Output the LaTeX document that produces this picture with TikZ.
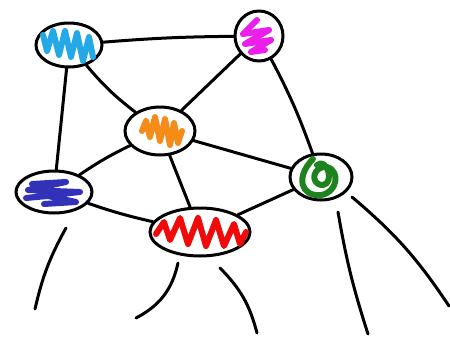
\documentclass[tikz,border=0pt]{standalone}
\usetikzlibrary{shapes.geometric}
\definecolor{pcyan}{RGB}{35,170,230}
\definecolor{pmag}{RGB}{235,30,235}
\definecolor{porange}{RGB}{245,140,25}
\definecolor{pblue}{RGB}{50,50,185}
\definecolor{pred}{RGB}{240,10,10}
\definecolor{pgreen}{RGB}{30,130,30}
\tikzset{
  blob/.style={ellipse,draw=black,line width=3pt,inner sep=0pt},
  edge/.style={draw=black,line width=3pt,line cap=round},
  scrib/.style={draw=#1,line width=6pt,line cap=round,line join=round}
}
\begin{document}
\begin{tikzpicture}[x=1pt,y=-1pt]
\path[use as bounding box,fill=white] (0,0) rectangle (450,343);
% nodes
\node[blob,minimum width=66pt,minimum height=44pt] (nCyan) at (69,45) {};
\node[blob,minimum width=48pt,minimum height=50pt] (nMag) at (259,36) {};
\node[blob,minimum width=70pt,minimum height=48pt] (nOrange) at (160,131) {};
\node[blob,minimum width=76pt,minimum height=42pt] (nBlue) at (54,192) {};
\node[blob,minimum width=100pt,minimum height=48pt] (nRed) at (200,232) {};
\node[blob,minimum width=62pt,minimum height=46pt] (nGreen) at (321,177) {};
% scribbles
\draw[scrib=pcyan,shift={(nCyan.center)}] (-26,-10) -- (-22,6) -- (-16,-14) -- (-10,10) -- (-4,-14) -- (2,12) -- (8,-12) -- (14,16) -- (20,-8) -- (24,12);
\draw[scrib=pmag,shift={(nMag.center)}] (-2,-16) -- (-16,-2) -- (10,-6) -- (-14,8) -- (12,4) -- (-8,16) -- (6,14);
\draw[scrib=porange,shift={(nOrange.center)}] (-18,0) -- (-14,-10) -- (-10,6) -- (-5,-14) -- (0,10) -- (5,-12) -- (10,14) -- (14,-8) -- (18,12) -- (22,0);
\draw[scrib=pblue,shift={(nBlue.center)}] (-22,-8) -- (12,-10) -- (-26,-2) -- (26,0) -- (-28,6) -- (-6,4) -- (22,10) -- (-10,12);
\draw[scrib=pred,shift={(nRed.center)}] (-44,2) -- (-36,-10) -- (-30,8) -- (-20,-14) -- (-12,12) -- (-2,-14) -- (6,14) -- (16,-12) -- (24,14) -- (34,-8) -- (40,12) -- (46,0);
\draw[scrib=pgreen,shift={(nGreen.center)}] (-8,-18) .. controls (-26,0) and (-20,20) .. (0,18) .. controls (16,16) and (20,-6) .. (6,-10) .. controls (-8,-12) and (-12,8) .. (2,8) .. controls (14,6) and (6,-20) .. (-4,-12);
% connectors
\draw[edge] (nCyan) to[bend left=2] (nMag);
\draw[edge] (nCyan) -- (nBlue);
\draw[edge] (nCyan) to[bend right=6] (nOrange);
\draw[edge] (nMag) -- (nOrange);
\draw[edge] (nMag) to[bend left=4] (nGreen);
\draw[edge] (nOrange) -- (nGreen);
\draw[edge] (nOrange) to[bend right=4] (nBlue);
\draw[edge] (nOrange) -- (nRed);
\draw[edge] (nBlue) to[bend right=3] (nRed);
\draw[edge] (nRed) -- (nGreen);
% loose strokes
\coordinate (s1a) at (66,228);
\coordinate (s1b) at (35,309);
\coordinate (s2a) at (178,263);
\coordinate (s2b) at (136,318);
\coordinate (s3a) at (220,268);
\coordinate (s3b) at (257,333);
\coordinate (s4a) at (338,212);
\coordinate (s4b) at (368,334);
\coordinate (s5a) at (352,197);
\coordinate (s5b) at (449,306);
\draw[edge] (s1a) to[bend right=8] (s1b);
\draw[edge] (s2a) to[bend left=25] (s2b);
\draw[edge] (s3a) to[bend left=15] (s3b);
\draw[edge] (s4a) to[bend right=4] (s4b);
\draw[edge] (s5a) to[bend left=8] (s5b);
\end{tikzpicture}
\end{document}
